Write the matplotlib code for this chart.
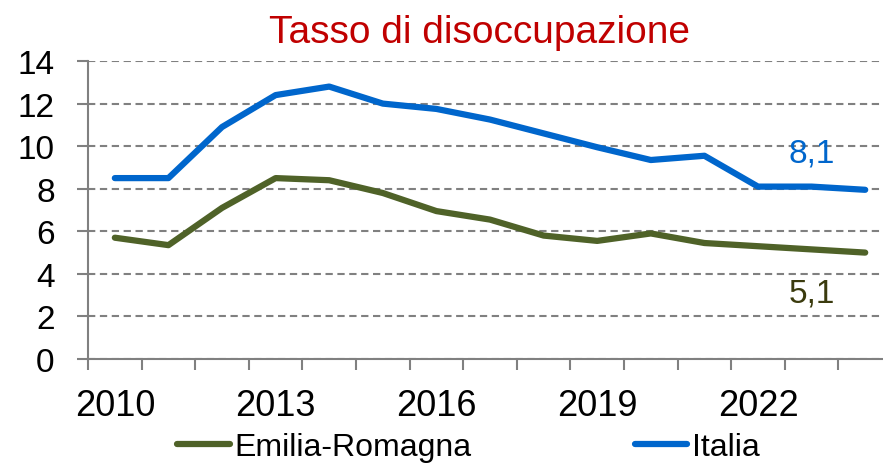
import numpy as np
import matplotlib.pyplot as plt
from matplotlib.lines import Line2D

plt.rcParams['font.family'] = ['Liberation Sans', 'DejaVu Sans']

# data
years = list(range(2010, 2025))
italia = [8.5, 8.5, 10.9, 12.4, 12.8, 12.0, 11.75, 11.25, 10.6, 9.95, 9.35, 9.55, 8.1, 8.1, 7.95]
emilia = [5.7, 5.35, 7.1, 8.5, 8.4, 7.8, 6.95, 6.55, 5.8, 5.55, 5.9, 5.45, 5.3, 5.15, 5.0]
year_labels = ['2010', '2013', '2016', '2019', '2022']
label_italia = '8,1'
label_emilia = '5,1'

blue = '#0066CC'
olive = '#4F6228'
grey = '#808080'

fig = plt.figure(figsize=(8.83, 4.64), dpi=100)
ax = fig.add_axes([0.0997, 0.2241, 0.9105, 0.6422])

x = np.arange(len(years))
ax.plot(x, emilia, color=olive, lw=4.5, solid_capstyle='round', solid_joinstyle='round', zorder=3)
ax.plot(x, italia, color=blue, lw=4.5, solid_capstyle='round', solid_joinstyle='round', zorder=3)

ax.set_xlim(-0.5, len(years) - 0.5)
ax.set_ylim(0, 14)
ax.set_yticks(np.arange(0, 15, 2))
ax.yaxis.grid(True, color=grey, lw=1.5, linestyle=(0, (3.5, 2.2)))
ax.set_axisbelow(True)

# category boundaries as tick marks, labels every 3 years
ax.set_xticks(np.arange(-0.5, len(years), 1.0))
ax.set_xticklabels([])
lab_pos = [years.index(int(y)) for y in year_labels]
ax.set_xticks(lab_pos, minor=True)
ax.set_xticklabels(year_labels, minor=True)
ax.tick_params(axis='x', which='major', direction='out', length=8, width=1.5, color=grey)
ax.tick_params(axis='x', which='minor', length=0, pad=21, labelsize=26)
ax.tick_params(axis='y', direction='out', length=8, width=1.5, color=grey, pad=16, labelsize=24)

for s in ['top', 'right']:
    ax.spines[s].set_visible(False)
for s in ['left', 'bottom']:
    ax.spines[s].set_color(grey)
    ax.spines[s].set_linewidth(1.5)

ax.text(13, 9.7, label_italia, color=blue, fontsize=24, ha='center', va='center')
ax.text(13, 3.1, label_emilia, color='#3B3B0E', fontsize=24, ha='center', va='center')

fig.text(0.543, 1 - 43 / 464, 'Tasso di disoccupazione', color='#C00000', fontsize=28,
         ha='center', va='baseline')

handles = [Line2D([], [], color=olive, lw=4.5, solid_capstyle='round'),
           Line2D([], [], color=blue, lw=4.5, solid_capstyle='round')]
fig.legend(handles, ['Emilia-Romagna', 'Italia'], loc='center left',
           bbox_to_anchor=(177 / 883, 1 - 448 / 464), borderpad=0, borderaxespad=0,
           ncol=2, frameon=False, fontsize=23, handlelength=1.65, handletextpad=0.15,
           columnspacing=5.1)

fig.savefig('out.png', dpi=100)
